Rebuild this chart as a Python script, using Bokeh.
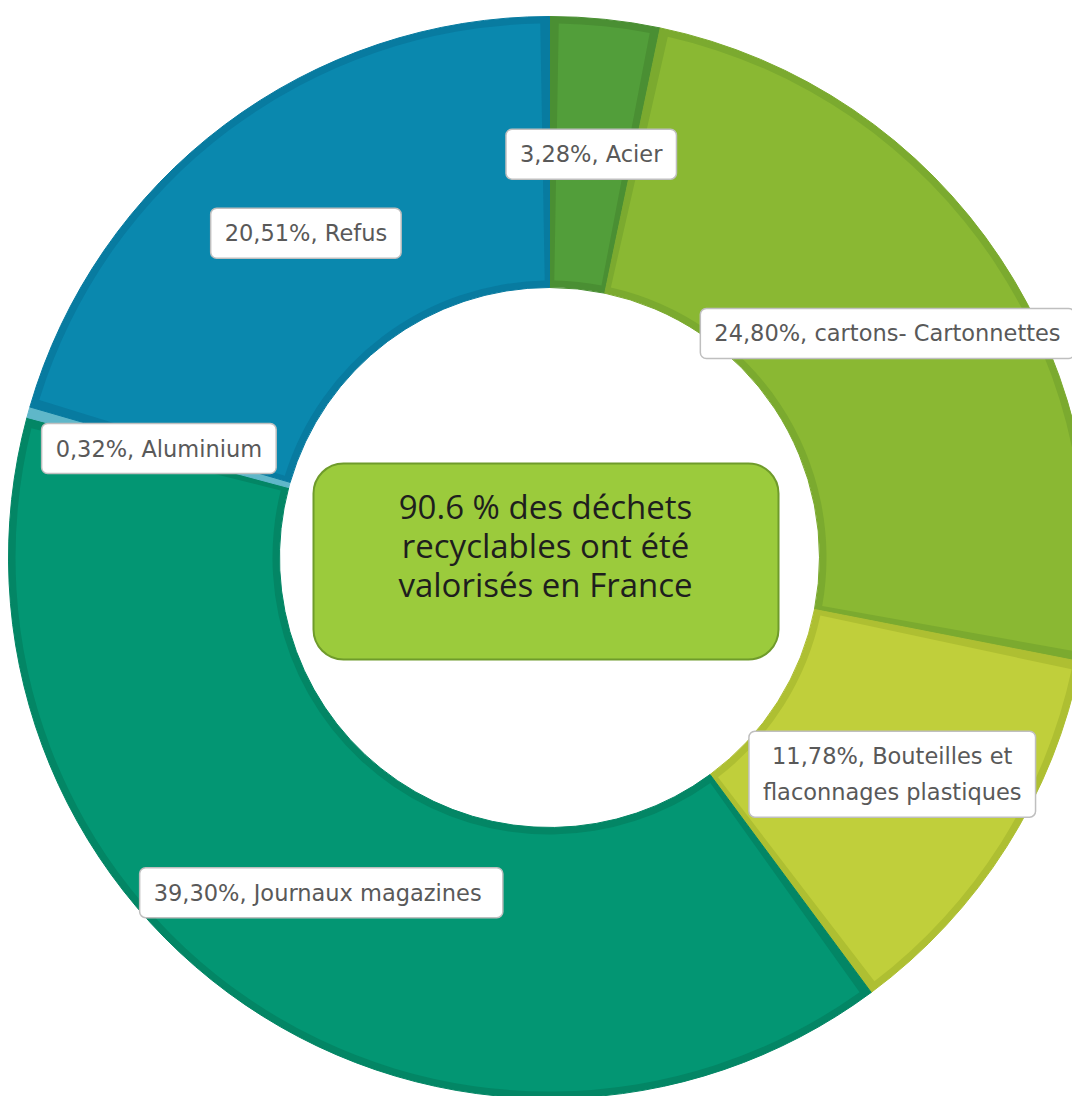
import math
from bokeh.plotting import figure
from bokeh.models import Label, BoxAnnotation, Range1d, ColumnDataSource
from bokeh.embed import file_html
from bokeh.resources import INLINE

# ---- data (clockwise from 12 o'clock) ----
categories = ["Acier", "cartons- Cartonnettes", "Bouteilles et\nflaconnages plastiques",
              "Journaux  magazines", "Aluminium", "Refus"]
values = [3.28, 24.80, 11.78, 39.30, 0.32, 20.51]
fill_colors = ["#529E3A", "#8AB833", "#C0CF3B", "#039673", "#5FB7C9", "#0A88AE"]
edge_colors = ["#4A8F33", "#7BAA2F", "#AEBF32", "#038665", "#5FB7C9", "#087BA0"]
center_text = "90.6 % des déchets\nrecyclables ont été\nvalorisés en France"

# ---- layout ----
W, H = 1072, 1096
REF_H = 1096
cx, cy = 549, REF_H - 557
r_out, r_in = 541, 270
band = 7

p = figure(width=W, height=H, output_backend="svg", toolbar_location=None,
           x_range=Range1d(0, W), y_range=Range1d(REF_H - H, REF_H),
           min_border=0)
p.axis.visible = False
p.grid.visible = False
p.outline_line_color = None
p.background_fill_color = "white"

total = sum(values)
starts, ends, mids = [], [], []
cum = 0.0
for v in values:
    a0 = cum / total
    cum += v
    a1 = cum / total
    starts.append(math.pi / 2 - 2 * math.pi * a1)
    ends.append(math.pi / 2 - 2 * math.pi * a0)
    mids.append(math.pi / 2 - 2 * math.pi * (a0 + a1) / 2)

outer_src = ColumnDataSource(dict(start=starts, end=ends, color=edge_colors))
p.annular_wedge(x=cx, y=cy, inner_radius=r_in, outer_radius=r_out,
                start_angle="start", end_angle="end", source=outer_src,
                fill_color="color", line_color="color", line_width=1)

d = band / ((r_in + r_out) / 2)
in_s, in_e, in_c = [], [], []
for s, e, c in zip(starts, ends, fill_colors):
    if e - s > 2 * d:
        in_s.append(s + d)
        in_e.append(e - d)
        in_c.append(c)
inner_src = ColumnDataSource(dict(start=in_s, end=in_e, color=in_c))
p.annular_wedge(x=cx, y=cy, inner_radius=r_in + band, outer_radius=r_out - band,
                start_angle="start", end_angle="end", source=inner_src,
                fill_color="color", line_color=None)

# data labels at mid-angle, mid-radius
r_lab = (r_in + r_out) / 2
for cat, v, m in zip(categories, values, mids):
    txt = ("%.2f" % v).replace(".", ",") + "%, " + cat
    p.add_layout(Label(x=cx + r_lab * math.cos(m), y=cy + r_lab * math.sin(m),
                       text=txt, text_align="center", text_baseline="middle",
                       text_font="DejaVu Sans", text_font_size="22.5px",
                       text_color="#595959", text_line_height=1.38,
                       background_fill_color="white", background_fill_alpha=1,
                       border_line_color="#BFBFBF", border_line_width=1.5,
                       border_radius=6,
                       padding=dict(left=14, right=14, top=12, bottom=12)))

# centre box
p.add_layout(BoxAnnotation(left=313, right=778, top=REF_H - 463, bottom=REF_H - 659,
                           fill_color="#9BCB3C", fill_alpha=1,
                           line_color="#6F9B2B", line_width=2, line_alpha=1,
                           border_radius=30))
p.add_layout(Label(x=545, y=REF_H - 545, text=center_text,
                   text_align="center", text_baseline="middle",
                   text_font="Open Sans", text_font_size="33px",
                   text_color="#1E1E1E", text_line_height=0.87))

open("out.html", "w").write(file_html(p, INLINE))
